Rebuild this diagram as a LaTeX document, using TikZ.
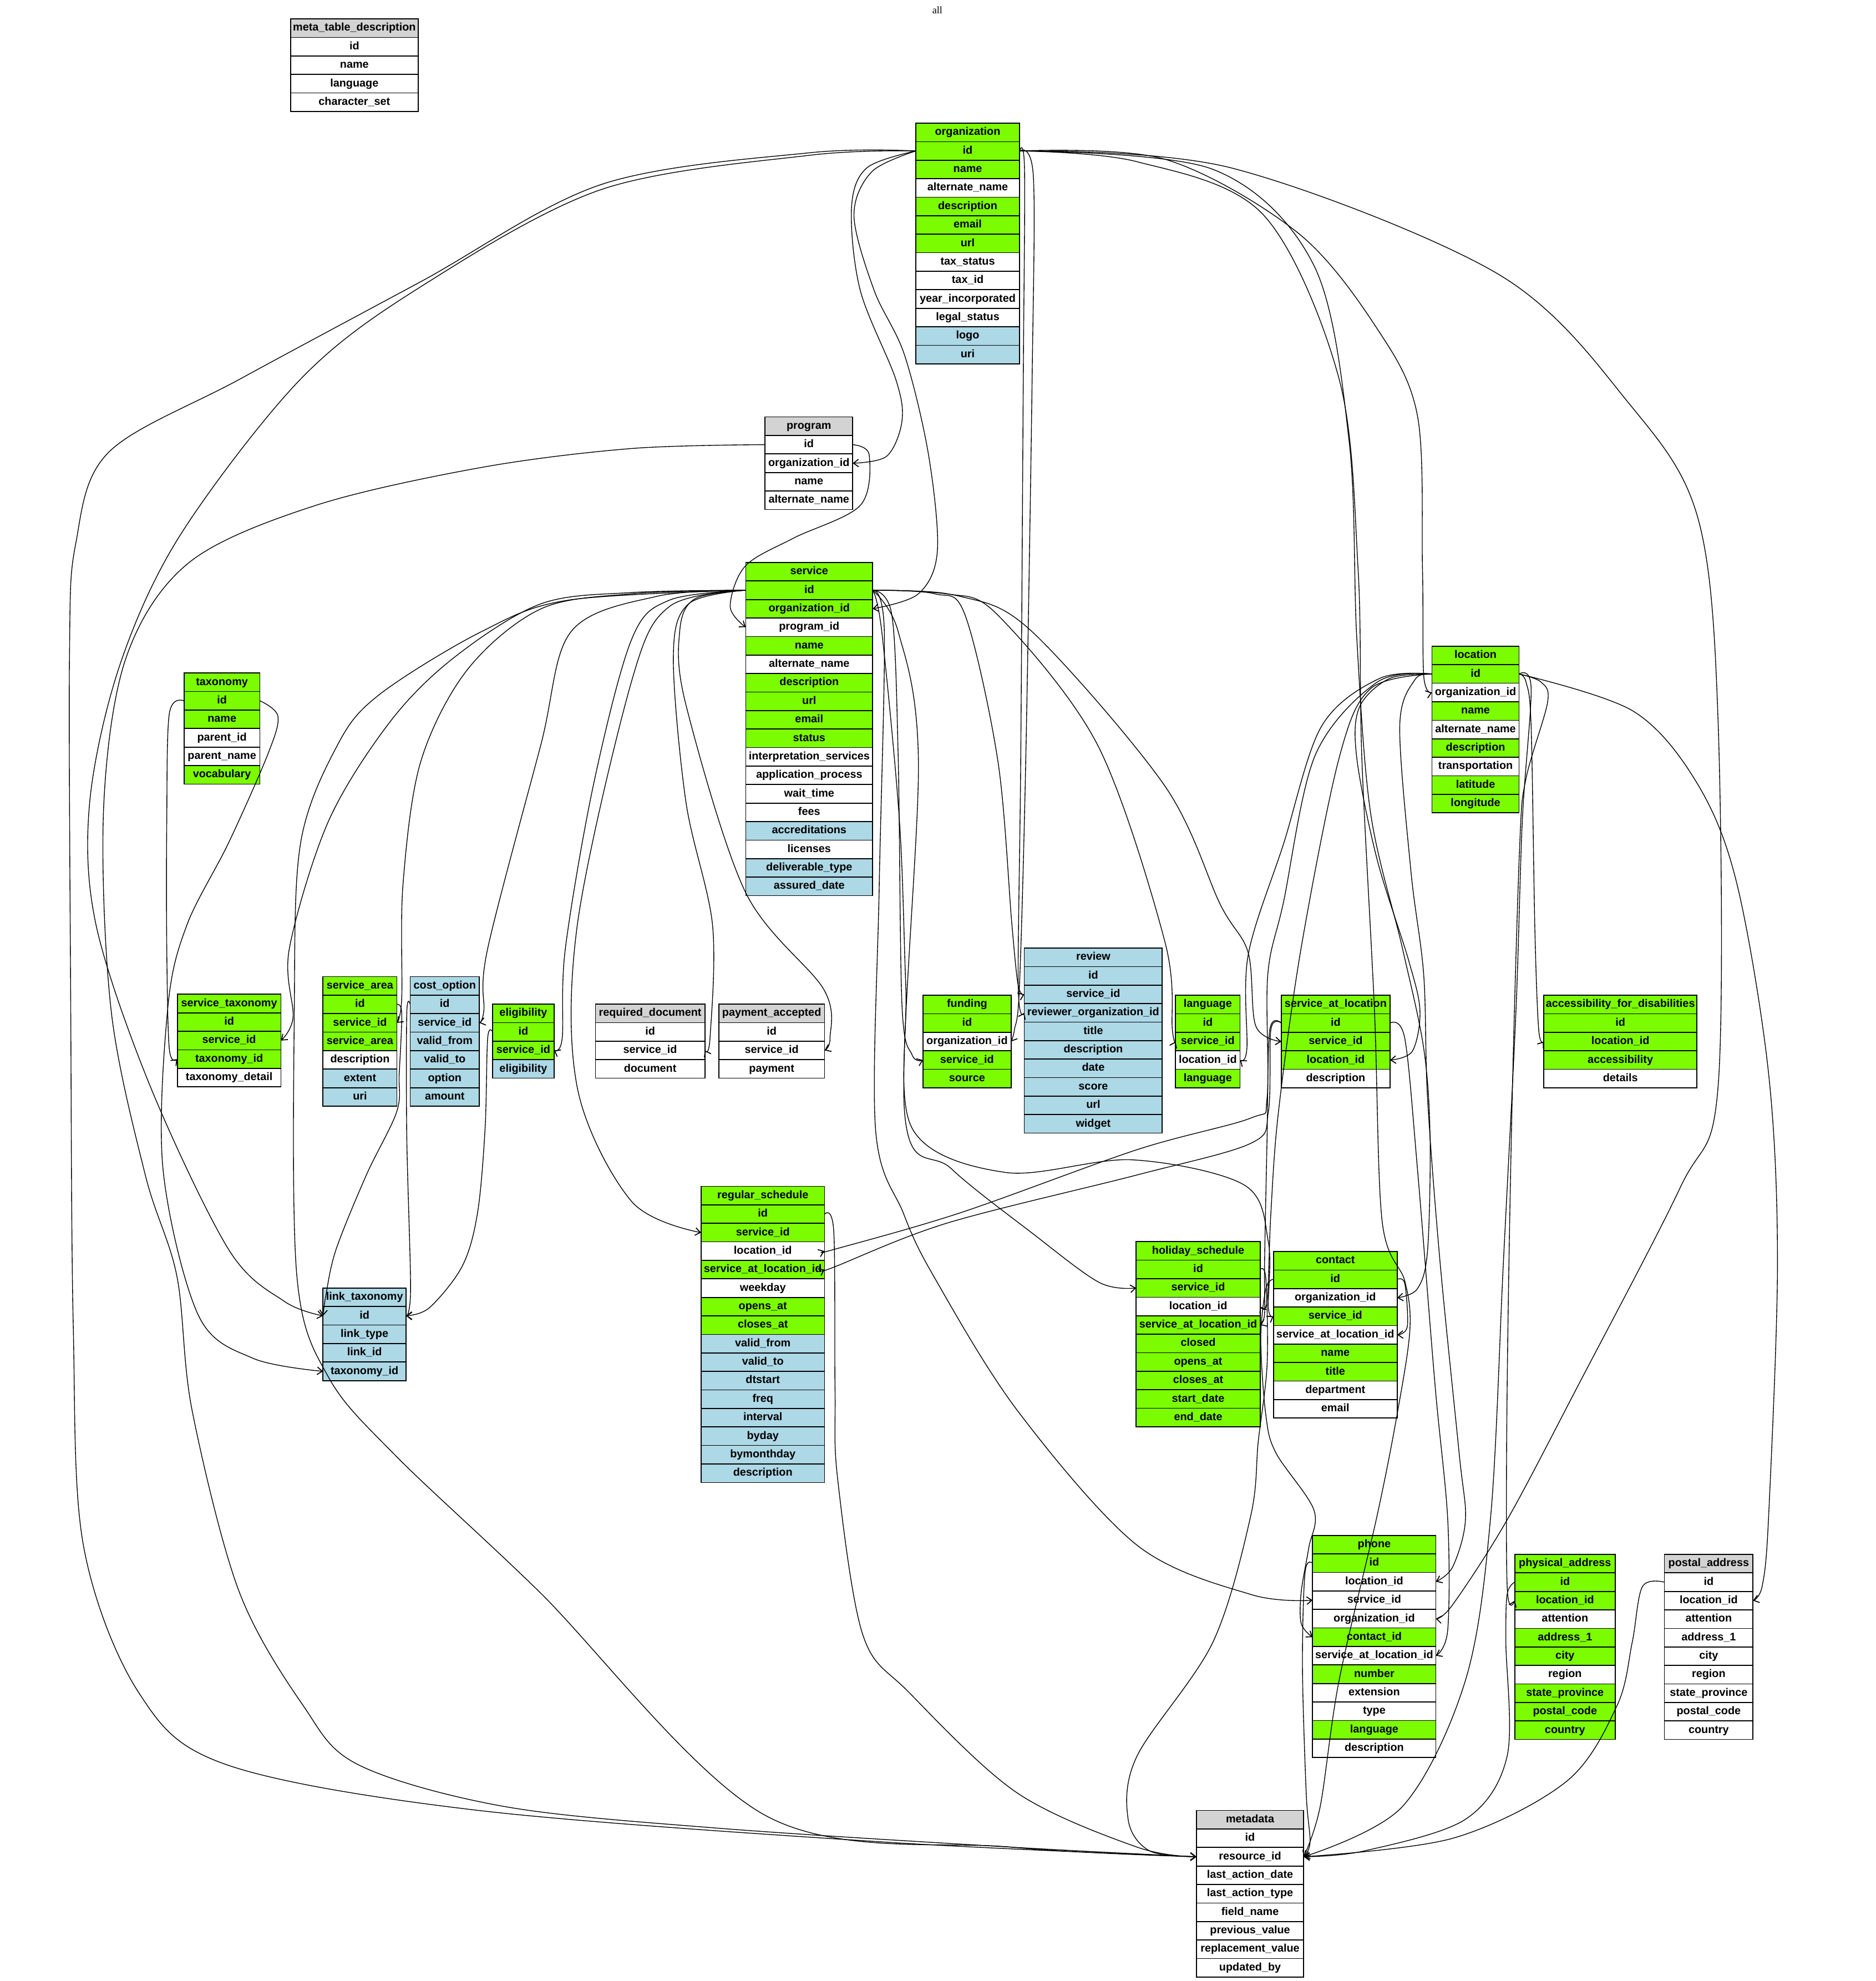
\documentclass[tikz,border=0pt]{standalone}
\usepackage{fontspec}
\setmainfont{Liberation Sans}
\newfontfamily\titlefont{Liberation Serif}
\usetikzlibrary{arrows.meta}
\definecolor{G}{RGB}{124,252,0}
\definecolor{B}{RGB}{173,216,230}
\definecolor{Y}{RGB}{211,211,211}
\colorlet{W}{white}
\tikzset{
  cell/.style={draw=black, line width=0.75pt, minimum height=14.65pt, inner sep=0pt, outer sep=0pt,
    anchor=north west, font=\fontsize{8.7}{10}\selectfont\bfseries, text height=6.3pt, text depth=1.8pt},
  fk/.style={draw=black, line width=0.6pt, -{Straight Barb[length=4pt,width=6pt,line width=0.75pt]}},
  sm/.style={smooth, tension=0.55}
}
\newcommand\mktable[7]{%
  \node[cell,fill=#5,minimum width=#4pt] (#1-head) at (#2,#3) {#6};
  \foreach \lab/\fc [count=\i] in {#7}{%
    \node[cell,fill=\fc,minimum width=#4pt] (#1-\lab) at (#2,#3+\i*14.65) {\lab};
  }%
}
\begin{document}
\catcode`\_=12
\begin{tikzpicture}[x=1pt,y=-1pt]
\fill[white] (0,0) rectangle (1485,1568);
\useasboundingbox (0,0) rectangle (1485,1568);
\node[font=\titlefont\fontsize{8}{9}\selectfont] (title) at (742,8) {all};

% ---------------- tables ----------------
\mktable{meta_table_description}{230}{15}{101}{Y}{meta_table_description}{id/W,name/W,language/W,character_set/W}
\mktable{organization}{725}{97.5}{82}{G}{organization}{id/G,name/G,alternate_name/W,description/G,email/G,url/G,tax_status/W,tax_id/W,year_incorporated/W,legal_status/W,logo/B,uri/B}
\mktable{program}{605.6}{330}{69.4}{Y}{program}{id/W,organization_id/W,name/W,alternate_name/W}
\mktable{service}{590.3}{445.2}{100.5}{G}{service}{id/G,organization_id/G,program_id/W,name/G,alternate_name/W,description/G,url/G,email/G,status/G,interpretation_services/W,application_process/W,wait_time/W,fees/W,accreditations/B,licenses/W,deliverable_type/B,assured_date/B}
\mktable{taxonomy}{145.7}{532.7}{60}{G}{taxonomy}{id/G,name/G,parent_id/W,parent_name/W,vocabulary/G}
\mktable{location}{1133.5}{511.5}{69}{G}{location}{id/G,organization_id/W,name/G,alternate_name/W,description/G,transportation/W,latitude/G,longitude/G}
\mktable{service_taxonomy}{140.4}{787}{82}{G}{service_taxonomy}{id/G,service_id/G,taxonomy_id/G,taxonomy_detail/W}
\mktable{service_area}{255.7}{773}{58.5}{G}{service_area}{id/G,service_id/G,service_area/G,description/W,extent/B,uri/B}
\mktable{cost_option}{324.7}{773}{54.7}{B}{cost_option}{id/B,service_id/B,valid_from/B,valid_to/B,option/B,amount/B}
\mktable{eligibility}{390}{794.8}{48.5}{G}{eligibility}{id/G,service_id/G,eligibility/B}
\mktable{required_document}{471.3}{794.8}{86.7}{Y}{required_document}{id/W,service_id/W,document/W}
\mktable{payment_accepted}{569}{794.8}{83.7}{Y}{payment_accepted}{id/W,service_id/W,payment/W}
\mktable{funding}{730.7}{787.8}{69.6}{G}{funding}{id/G,organization_id/W,service_id/G,source/G}
\mktable{review}{810.8}{750.4}{109.2}{B}{review}{id/B,service_id/B,reviewer_organization_id/B,title/B,description/B,date/B,score/B,url/B,widget/B}
\mktable{language}{930.5}{787.8}{51.1}{G}{language}{id/G,service_id/G,location_id/W,language/G}
\mktable{service_at_location}{1014.3}{787.8}{86}{G}{service_at_location}{id/G,service_id/G,location_id/G,description/W}
\mktable{accessibility_for_disabilities}{1222}{787.8}{121.3}{G}{accessibility_for_disabilities}{id/G,location_id/G,accessibility/G,details/W}
\mktable{regular_schedule}{555}{939}{97.7}{G}{regular_schedule}{id/G,service_id/G,location_id/W,service_at_location_id/G,weekday/W,opens_at/G,closes_at/G,valid_from/B,valid_to/B,dtstart/B,freq/B,interval/B,byday/B,bymonthday/B,description/B}
\mktable{link_taxonomy}{255.7}{1019.5}{65.7}{B}{link_taxonomy}{id/B,link_type/B,link_id/B,taxonomy_id/B}
\mktable{holiday_schedule}{899.4}{982.8}{98.1}{G}{holiday_schedule}{id/G,service_id/G,location_id/W,service_at_location_id/G,closed/G,opens_at/G,closes_at/G,start_date/G,end_date/G}
\mktable{contact}{1008}{990.6}{98}{G}{contact}{id/G,organization_id/W,service_id/G,service_at_location_id/W,name/G,title/G,department/W,email/W}
\mktable{phone}{1039}{1215.3}{97.6}{G}{phone}{id/G,location_id/W,service_id/W,organization_id/W,contact_id/G,service_at_location_id/W,number/G,extension/W,type/W,language/G,description/W}
\mktable{physical_address}{1199}{1230.3}{79.6}{G}{physical_address}{id/G,location_id/G,attention/W,address_1/G,city/G,region/W,state_province/G,postal_code/G,country/G}
\mktable{postal_address}{1317.5}{1230.3}{70.1}{Y}{postal_address}{id/W,location_id/W,attention/W,address_1/W,city/W,region/W,state_province/W,postal_code/W,country/W}
\mktable{metadata}{947}{1433}{85}{Y}{metadata}{id/W,resource_id/W,last_action_date/W,last_action_type/W,field_name/W,previous_value/W,replacement_value/W,updated_by/W}

% ---------------- connectors ----------------
% organization.id (left)
\draw[fk] plot[sm] coordinates {(organization-id.west) (640,121) (476,146) (333,223) (190,300) (86,358) (60,430) (55,520) (56,800) (58,1050) (66,1223) (110,1340) (180,1397) (379,1433) (700,1458) (metadata-resource_id.west)};
\draw[fk] plot[sm] coordinates {(organization-id.west) (640,123) (476,150) (333,227) (238,300) (143,423) (95,526) (71,635) (76,732) (119,860) (181,989) (225,1030) (link_taxonomy-id.west)};
\draw[fk] plot[sm] coordinates {(organization-id.west) (686,133) (674,165) (681,230) (709,300) (714,333) (702,361) (program-organization_id.east)};
\draw[fk] plot[sm] coordinates {(organization-id.west) (690,136) (676,171) (692,230) (716,281) (735,360) (742,436) (727,470) (service-organization_id.east)};
% organization.id (right)
\draw[fk] plot[sm] coordinates {(organization-id.east) (811,135) (810,300) (808,600) (806,780) (review-reviewer_organization_id.west)};
\draw[fk] plot[sm] coordinates {(organization-id.east) (818,140) (817,300) (812,600) (807,780) (803,815) (funding-organization_id.east)};
\draw[fk] plot[sm] coordinates {(organization-id.east) (922,126) (1027,184) (1090,260) (1122,329) (1126,450) (1127,535) (location-organization_id.west)};
\draw[fk] plot[sm] coordinates {(organization-id.east) (975,133) (1186,217) (1290,320) (1344,410) (1360,571) (1360,860) (1330,940) (1249,1097) (1193,1203) (1150,1270) (phone-organization_id.east)};
\draw[fk] plot[sm] coordinates {(organization-id.east) (960,134) (1040,210) (1068,350) (1074,505) (1085,644) (1110,750) (1127,830) (1132,900) (1130,990) (1122,1020) (contact-organization_id.east)};
\draw[fk] plot[sm] coordinates {(organization-id.east) (900,128) (1000,170) (1060,300) (1075,450) (1078,600) (1088,800) (1094,966) (1112,1014) (1116,1053) (1106,1119) (1090,1200) (1060,1330) (1045,1430) (metadata-resource_id.east)};
% program
\draw[fk] plot[sm] coordinates {(program-id.west) (500,355) (381,370) (250,400) (150,445) (100,520) (82,640) (88,800) (115,930) (140,1010) (152,1116) (189,1259) (240,1350) (284,1397) (400,1430) (568,1447) (800,1462) (metadata-resource_id.west)};
\draw[fk] plot[sm] coordinates {(program-id.east) (688,360) (681,400) (628,426) (590,448) (578,480) (service-program_id.west)};
% service.id (left)
\draw[fk] plot[sm] coordinates {(service-id.west) (500,469) (428,478) (360,520) (309,571) (260,650) (229,751) (232,805) (service_taxonomy-service_id.east)};
\draw[fk] plot[sm] coordinates {(service-id.west) (500,470) (428,482) (370,530) (333,603) (319,700) (318,790) (service_area-service_id.east)};
\draw[fk] plot[sm] coordinates {(service-id.west) (520,472) (452,500) (428,590) (386,751) (383,800) (cost_option-service_id.east)};
\draw[fk] plot[sm] coordinates {(service-id.west) (530,475) (500,506) (470,620) (447.5,751) (445,822) (eligibility-service_id.east)};
\draw[fk] plot[sm] coordinates {(service-id.west) (545,478) (533,520) (543,635) (564,732) (562,822) (required_document-service_id.east)};
\draw[fk] plot[sm] coordinates {(service-id.west) (550,474) (538,500) (543,558) (590,706) (652,783) (657,822) (payment_accepted-service_id.east)};
\draw[fk] plot[sm] coordinates {(service-id.west) (530,480) (500,539) (457,732) (457,861) (500,951) (regular_schedule-service_id.west)};
\draw[fk] plot[sm] coordinates {(service-id.west) (450,475) (381,500) (300,550) (267,590) (238,667) (233,796) (235,1010) (260,1090) (313,1152) (426,1259) (606,1437) (800,1462) (metadata-resource_id.west)};
% service.id (right)
\draw[fk] plot[sm] coordinates {(service-id.east) (706,487) (711,600) (714,796) (722,835) (funding-service_id.west)};
\draw[fk] plot[sm] coordinates {(service-id.east) (740,470) (764,487) (790,603) (801,732) (806,780) (review-service_id.west)};
\draw[fk] plot[sm] coordinates {(service-id.east) (750,470) (790,487) (869,590) (922,745) (928,815) (language-service_id.west)};
\draw[fk] plot[sm] coordinates {(service-id.east) (760,472) (817,500) (922,622) (966,716) (988,754) (994,812) (service_at_location-service_id.west)};
\draw[fk] plot[sm] coordinates {(service-id.east) (711,500) (727,603) (716,880) (753,925) (817,976) (870,1015) (holiday_schedule-service_id.west)};
\draw[fk] plot[sm] coordinates {(service-id.east) (698,500) (712,650) (717,780) (722,893) (796,928) (896,918) (985,938) (1004,983) (1004,1035) (contact-service_id.west)};
\draw[fk] plot[sm] coordinates {(service-id.east) (700,500) (696,700) (693,893) (715,960) (739,1010) (805,1116) (900,1223) (990,1262) (phone-service_id.west)};
% small tables to link_taxonomy
\draw[fk] plot[sm] coordinates {(service_area-id.east) (318,802) (316,850) (314,880) (290,930) (266,989) (258,1025) (link_taxonomy-id.west)};
\draw[fk] plot[sm] coordinates {(cost_option-id.west) (322,802) (322,900) (325,1020) (link_taxonomy-id.east)};
\draw[fk] plot[sm] coordinates {(eligibility-id.west) (386,822) (384,893) (378,960) (366,1002) (340,1035) (link_taxonomy-id.east)};
% taxonomy
\draw[fk] plot[sm] coordinates {(taxonomy-id.west) (134,565) (132,650) (132,750) (134,830) (service_taxonomy-taxonomy_id.west)};
\draw[fk] plot[sm] coordinates {(taxonomy-id.east) (220,567) (212,597) (181,667) (148,732) (133,796) (129,925) (157,1041) (200,1075) (link_taxonomy-taxonomy_id.west)};
% regular_schedule.id
\draw[fk] plot[sm] coordinates {(regular_schedule-id.east) (660,975) (661,1100) (663,1170) (683,1294) (720,1340) (805,1419) (900,1462) (metadata-resource_id.west)};
% service_at_location.id
\draw[fk] plot[sm] coordinates {(service_at_location-id.west) (1006,815) (1004,880) (990,905) (900,930) (750,968) (660,1003) (regular_schedule-service_at_location_id.east)};
\draw[fk] plot[sm] coordinates {(service_at_location-id.west) (1005,816) (1003,900) (1001,1000) (1001,1040) (holiday_schedule-service_at_location_id.east)};
\draw[fk] plot[sm] coordinates {(service_at_location-id.east) (1112,822) (1122,925) (1136,1097) (1146,1203) (1146,1290) (phone-service_at_location_id.east)};
% location.id (left)
\draw[fk] plot[sm] coordinates {(location-id.west) (1100,537) (1076,560) (1074,600) (1090,680) (1115,760) (1124,800) (1118,832) (service_at_location-location_id.east)};
\draw[fk] plot[sm] coordinates {(location-id.west) (1092,537) (1046,575) (1016,668) (988,756) (987,830) (language-location_id.east)};
\draw[fk] plot[sm] coordinates {(location-id.west) (1090,540) (1041,598) (1016,714) (1003.5,772) (1003,869) (990,885) (900,910) (760,960) (660,989) (regular_schedule-location_id.east)};
\draw[fk] plot[sm] coordinates {(location-id.west) (1085,545) (1060,600) (1030,750) (1012,880) (1006,960) (1003,1030) (holiday_schedule-location_id.east)};
\draw[fk] plot[sm] coordinates {(location-id.west) (1120,538) (1108,575) (1117,691) (1127,772) (1130,869) (1140,1000) (1155,1150) (1160,1203) (1150,1240) (phone-location_id.east)};
% location.id (right)
\draw[fk] plot[sm] coordinates {(location-id.east) (1208,540) (1212,575) (1215,737) (1218,815) (accessibility_for_disabilities-location_id.west)};
\draw[fk] plot[sm] coordinates {(location-id.east) (1220,540) (1225,556) (1208,616) (1203,668) (1197,870) (1193,1100) (1193,1255) (physical_address-location_id.west)};
\draw[fk] plot[sm] coordinates {(location-id.east) (1293,563) (1344,621) (1375,700) (1400,850) (1407,1000) (1400,1200) (1395,1255) (postal_address-location_id.east)};
\draw[fk] plot[sm] coordinates {(location-id.east) (1212,545) (1205,650) (1200,800) (1190,1000) (1180,1200) (1160,1330) (1110,1430) (metadata-resource_id.east)};
% contact, phone, holiday, addresses
\draw[fk] plot[sm] coordinates {(contact-id.east) (1112,1016) (1114,1050) (contact-service_at_location_id.east)};
\draw[fk] plot[sm] coordinates {(contact-id.west) (1002,1020) (998,1060) (1002,1120) (1010,1150) (1040,1195) (1036,1225) (1030,1260) (1030,1285) (phone-contact_id.west)};
\draw[fk] plot[sm] coordinates {(phone-id.west) (1033,1245) (1031,1320) (1034,1420) (1037,1458) (metadata-resource_id.east)};
\draw[fk] plot[sm] coordinates {(holiday_schedule-id.east) (1002,1012) (1003,1080) (996,1141) (990,1200) (960,1300) (900,1390) (893,1440) (910,1465) (metadata-resource_id.west)};
\draw[fk] plot[sm] coordinates {(postal_address-id.west) (1300,1256) (1292,1300) (1280,1350) (1240,1410) (1150,1455) (metadata-resource_id.east)};
\draw[fk] plot[sm] coordinates {(physical_address-id.west) (1193,1262) (1192,1300) (1193,1390) (1160,1440) (1080,1465) (metadata-resource_id.east)};
\end{tikzpicture}
\end{document}
